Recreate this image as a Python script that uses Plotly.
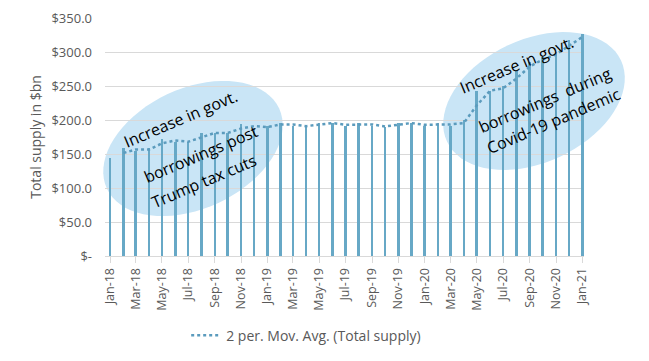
import math
import pandas as pd
import plotly.graph_objects as go

# ---- data ----
months = pd.date_range("2018-01-01", "2021-01-01", freq="MS")
total_supply = [144, 159, 154, 159, 172, 168, 168, 181, 181, 181, 194, 188,
                191, 196, 191, 191, 196, 195, 191, 196, 191, 190, 196, 195,
                191, 196, 191, 200, 243, 243, 250, 272, 285, 293, 300, 318,
                326]
y_ticks = [0, 50, 100, 150, 200, 250, 300, 350]
y_tick_text = ["$-", "$50.0", "$100.0", "$150.0", "$200.0", "$250.0", "$300.0", "$350.0"]
note_left = ["Increase in govt.", "borrowings post", "Trump tax cuts"]
note_right = ["Increase in govt.", "borrowings  during", "Covid-19 pandemic"]

mov_avg = pd.Series(total_supply).rolling(2).mean().tolist()

# ---- layout geometry (pixels) ----
W, H = 649, 361
L, R, T, B = 105, 65, 18, 105
PW, PH = W - L - R, H - T - B


def px2paper(x, y):
    return (x - L) / PW, (H - B - y) / PH


def ellipse_path(cx, cy, a, b, ang_deg, n=72):
    th = math.radians(ang_deg)
    pts = []
    for i in range(n):
        t = 2 * math.pi * i / n
        x = cx + a * math.cos(th) * math.cos(t) - b * math.sin(th) * math.sin(t)
        y = cy + a * math.sin(th) * math.cos(t) + b * math.cos(th) * math.sin(t)
        px, py = px2paper(x, y)
        pts.append(f"{px:.4f},{py:.4f}")
    return "M " + " L ".join(pts) + " Z"


fig = go.Figure()
fig.add_trace(go.Bar(
    x=months, y=total_supply, name="Total supply",
    marker=dict(color="#67a8c6", line=dict(width=0)),
    width=6 * 86400000, showlegend=False,
))
fig.add_trace(go.Scatter(
    x=months, y=mov_avg, mode="lines", name="2 per. Mov. Avg. (Total supply)",
    line=dict(color="#5b9bbd", width=2.5, dash="dot"),
))

ell_color = "#c9e5f6"
fig.add_shape(type="path", path=ellipse_path(193, 148.5, 95, 60, -25),
              xref="paper", yref="paper", fillcolor=ell_color,
              line=dict(width=0), layer="between")
fig.add_shape(type="path", path=ellipse_path(534, 101, 96, 61.5, -25),
              xref="paper", yref="paper", fillcolor=ell_color,
              line=dict(width=0), layer="between")

left_pos = [(180, 119), (201, 154), (204, 181)]
right_pos = [(516, 65), (545, 100), (553, 121)]
for txt, (x, y) in list(zip(note_left, left_pos)) + list(zip(note_right, right_pos)):
    px, py = px2paper(x, y)
    fig.add_annotation(x=px, y=py, xref="paper", yref="paper", text=txt,
                       showarrow=False, textangle=-23,
                       xanchor="center", yanchor="middle",
                       font=dict(size=16, color="#000000", family="Open Sans"))

fig.update_layout(
    width=W, height=H,
    margin=dict(l=L, r=R, t=T, b=B, autoexpand=False),
    paper_bgcolor="white", plot_bgcolor="white",
    font=dict(family="Open Sans", color="#595959", size=11),
    bargap=0,
    legend=dict(orientation="h", x=0.42, y=-0.335, xanchor="center", yanchor="middle",
                font=dict(size=14, color="#595959")),
    xaxis=dict(
        type="date", automargin=False,
        range=["2017-12-20", "2021-01-05"],
        tickformat="%b-%y", dtick="M2", tick0="2018-01-01",
        tickangle=-90, tickfont=dict(size=12.5, color="#595959"),
        showgrid=False, showline=True, linecolor="#d9d9d9", linewidth=1,
        ticks="outside", ticklen=6, tickcolor="#d9d9d9",
    ),
    yaxis=dict(
        range=[0, 350], tickvals=y_ticks, ticktext=y_tick_text, automargin=False,
        tickfont=dict(size=13, color="#595959"),
        showgrid=True, gridcolor="#d9d9d9", gridwidth=1,
        zeroline=False, ticklabelstandoff=12,
        title=dict(text="Total supply in $bn", font=dict(size=14, color="#595959"), standoff=6),
    ),
)

fig.write_html("out.html", config={"displayModeBar": False},
               post_script="document.body.style.margin='0';")
